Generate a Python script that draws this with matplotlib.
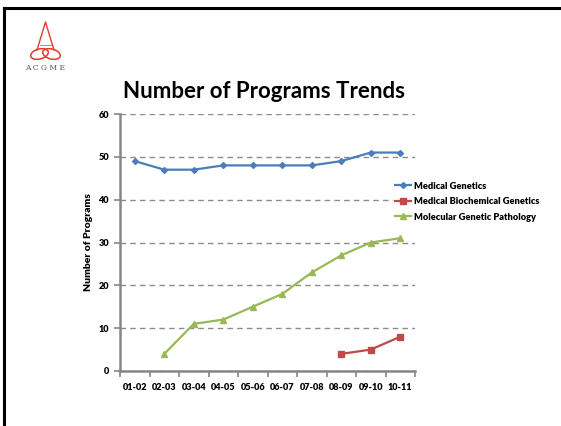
import numpy as np
import matplotlib.pyplot as plt
from matplotlib.patches import Ellipse

# datos de programas por ciclo academico
ciclos = ['01-02', '02-03', '03-04', '04-05', '05-06',
          '06-07', '07-08', '08-09', '09-10', '10-11']
medical_genetics = [49, 47, 47, 48, 48, 48, 48, 49, 51, 51]
biochemical = [np.nan] * 7 + [4, 5, 8]
molecular_path = [np.nan, 4, 11, 12, 15, 18, 23, 27, 30, 31]

plt.rcParams['font.family'] = ['Lato', 'DejaVu Sans']
peso = 'heavy'

fig = plt.figure(figsize=(5.61, 4.26), dpi=100)

# capa de fondo: marco y logo en pixeles
bg = fig.add_axes([0, 0, 1, 1])
bg.set_xlim(0, 561)
bg.set_ylim(426, 0)
bg.axis('off')
bg.plot([4.5, 4.5], [8, 426], color='black', lw=2.2)
bg.plot([4.5, 561], [8, 8], color='black', lw=2.2)

rojo = '#E8392E'
bg.plot([37, 45.5, 54], [50, 22, 50], color=rojo, lw=1.0)
bg.plot([40, 51], [45, 45], color=rojo, lw=0.5)
bg.add_patch(Ellipse((39.5, 54), 18, 10, fill=False, ec=rojo, lw=1.1, angle=-15))
bg.add_patch(Ellipse((51.5, 54), 18, 10, fill=False, ec=rojo, lw=1.1, angle=15))
bg.text(45.5, 68, 'A C G M E', ha='center', va='center', fontsize=5.5,
        family='DejaVu Serif', color='#555555')

ax = fig.add_axes([120 / 561, 1 - 371 / 426, 295 / 561, (371 - 114) / 426])
x = np.arange(len(ciclos))

ax.plot(x, medical_genetics, color='#4A7EBB', marker='D', ms=3, lw=1.6,
        label='Medical Genetics')
ax.plot(x, biochemical, color='#BE4B48', marker='s', ms=4, lw=1.6,
        label='Medical Biochemical Genetics')
ax.plot(x, molecular_path, color='#98B954', marker='^', ms=4, lw=1.6,
        label='Molecular Genetic Pathology')

ax.set_xlim(-0.5, len(ciclos) - 0.5)
ax.set_ylim(0, 60)
ax.set_yticks(range(0, 61, 10))
ax.set_xticks(x)
ax.set_xticklabels(ciclos)
ax.set_xticks(np.arange(-0.5, len(ciclos)), minor=True)
ax.tick_params(axis='x', which='major', length=0, pad=9)
ax.tick_params(axis='x', which='minor', length=4, color='#868686', width=1.2)
ax.tick_params(axis='y', length=4, color='#868686', width=1.2, pad=4)
for lab in ax.get_xticklabels() + ax.get_yticklabels():
    lab.set_fontsize(6.6)
    lab.set_fontweight(peso)

ax.yaxis.grid(True, linestyle=(0, (4, 3)), color='#8C8C8C', lw=1.0)
ax.set_axisbelow(True)
for s in ['top', 'right']:
    ax.spines[s].set_visible(False)
for s in ['left', 'bottom']:
    ax.spines[s].set_color('#868686')
    ax.spines[s].set_linewidth(1.8)

ax.set_ylabel('Number of Programs', fontsize=7.5, fontweight=peso, labelpad=4)

leg = fig.legend(loc='upper left', bbox_to_anchor=(388 / 561, 1 - 175 / 426),
                 frameon=True, fontsize=6.7, handlelength=1.8,
                 labelspacing=0.7, borderpad=0.2, handletextpad=0.3)
leg.get_frame().set_edgecolor('none')
leg.get_frame().set_facecolor('white')
leg.get_frame().set_alpha(1)
for t in leg.get_texts():
    t.set_fontweight(peso)

fig.text(264 / 561, 1 - 91 / 426, 'Number of Programs Trends',
         ha='center', va='center', fontsize=16, fontweight='bold')

fig.savefig('out.png', dpi=100)
